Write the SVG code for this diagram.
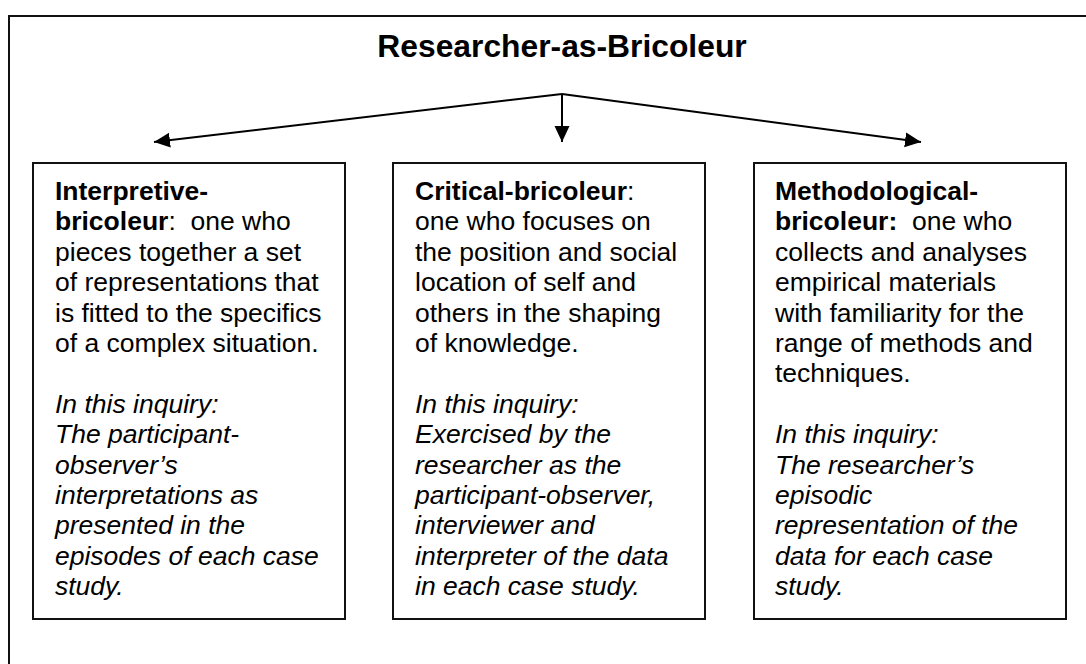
<svg xmlns="http://www.w3.org/2000/svg" width="1086" height="664" viewBox="0 0 1086 664">
  <style>
    .frame { fill: none; stroke: #111; stroke-width: 2; }
    .box { fill: #fff; stroke: #111; stroke-width: 2; }
    .title { font-family: "Liberation Sans", Arial, sans-serif; font-size: 31.8px; font-weight: bold; fill: #000; }
    .body { font-family: "Liberation Sans", Arial, sans-serif; font-size: 26.5px; fill: #000; white-space: pre; }
    .b { font-weight: bold; }
    .i { font-style: italic; }
    .link { stroke: #000; stroke-width: 2; fill: none; marker-end: url(#head); }
  </style>
  <defs>
    <marker id="head" markerUnits="userSpaceOnUse" markerWidth="16" markerHeight="16" refX="16" refY="7.5" orient="auto">
      <path d="M0,0 L16,7.5 L0,15 Z" fill="#000"/>
    </marker>
  </defs>

  <rect width="1086" height="664" fill="#fff"/>

  <!-- outer frame, runs past the right and bottom edges -->
  <rect class="frame" x="9" y="16" width="1100" height="700"/>

  <g id="title">
    <text class="title" x="562" y="57" text-anchor="middle">Researcher-as-Bricoleur</text>
  </g>

  <g id="connectors">
    <line class="link" x1="562" y1="94" x2="154" y2="142"/>
    <line class="link" x1="562" y1="94" x2="562" y2="142"/>
    <line class="link" x1="562" y1="94" x2="921" y2="142"/>
  </g>

  <g id="interpretive">
    <rect class="box" x="33" y="163" width="312" height="456"/>
    <text class="body" x="55" y="200">
      <tspan x="55" y="200" class="b">Interpretive-</tspan>
      <tspan x="55" y="230.4"><tspan class="b">bricoleur</tspan>:  one who</tspan>
      <tspan x="55" y="260.8">pieces together a set</tspan>
      <tspan x="55" y="291.2">of representations that</tspan>
      <tspan x="55" y="321.6">is fitted to the specifics</tspan>
      <tspan x="55" y="352">of a complex situation.</tspan>
      <tspan x="55" y="412.8" class="i">In this inquiry:</tspan>
      <tspan x="55" y="443.2" class="i">The participant-</tspan>
      <tspan x="55" y="473.6" class="i">observer’s</tspan>
      <tspan x="55" y="504" class="i">interpretations as</tspan>
      <tspan x="55" y="534.4" class="i">presented in the</tspan>
      <tspan x="55" y="564.8" class="i">episodes of each case</tspan>
      <tspan x="55" y="595.2" class="i">study.</tspan>
    </text>
  </g>

  <g id="critical">
    <rect class="box" x="393" y="163" width="312" height="456"/>
    <text class="body" x="415" y="200">
      <tspan x="415" y="200"><tspan class="b">Critical-bricoleur</tspan>:</tspan>
      <tspan x="415" y="230.4">one who focuses on</tspan>
      <tspan x="415" y="260.8">the position and social</tspan>
      <tspan x="415" y="291.2">location of self and</tspan>
      <tspan x="415" y="321.6">others in the shaping</tspan>
      <tspan x="415" y="352">of knowledge.</tspan>
      <tspan x="415" y="412.8" class="i">In this inquiry:</tspan>
      <tspan x="415" y="443.2" class="i">Exercised by the</tspan>
      <tspan x="415" y="473.6" class="i">researcher as the</tspan>
      <tspan x="415" y="504" class="i">participant-observer,</tspan>
      <tspan x="415" y="534.4" class="i">interviewer and</tspan>
      <tspan x="415" y="564.8" class="i">interpreter of the data</tspan>
      <tspan x="415" y="595.2" class="i">in each case study.</tspan>
    </text>
  </g>

  <g id="methodological">
    <rect class="box" x="754" y="163" width="312" height="456"/>
    <text class="body" x="775" y="200">
      <tspan x="775" y="200" class="b">Methodological-</tspan>
      <tspan x="775" y="230.4"><tspan class="b">bricoleur:</tspan>  one who</tspan>
      <tspan x="775" y="260.8">collects and analyses</tspan>
      <tspan x="775" y="291.2">empirical materials</tspan>
      <tspan x="775" y="321.6">with familiarity for the</tspan>
      <tspan x="775" y="352">range of methods and</tspan>
      <tspan x="775" y="382.4">techniques.</tspan>
      <tspan x="775" y="443.2" class="i">In this inquiry:</tspan>
      <tspan x="775" y="473.6" class="i">The researcher’s</tspan>
      <tspan x="775" y="504" class="i">episodic</tspan>
      <tspan x="775" y="534.4" class="i">representation of the</tspan>
      <tspan x="775" y="564.8" class="i">data for each case</tspan>
      <tspan x="775" y="595.2" class="i">study.</tspan>
    </text>
  </g>
</svg>
